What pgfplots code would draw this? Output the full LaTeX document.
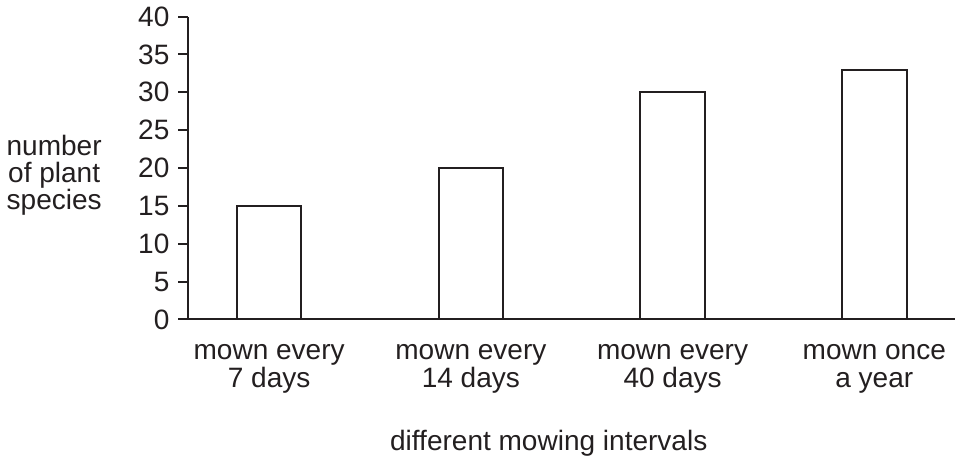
\documentclass[border=0pt]{standalone}
\usepackage{fontspec}
\setmainfont{Liberation Sans}
\usepackage{pgfplots}
\pgfplotsset{compat=1.18}
\definecolor{ink}{HTML}{231F20}
\begin{document}
\begin{tikzpicture}
\begin{axis}[
  scale only axis,
  width=383pt, height=151.3pt,
  xmin=-0.4, xmax=3.4,
  ymin=0, ymax=40,
  axis x line=bottom, axis y line=left,
  axis line style={-, ink, line width=1pt},
  ytick={0,5,...,40},
  xtick={0,1,2,3},
  xticklabels={{mown every\\7 days},{mown every\\14 days},{mown every\\40 days},{mown once\\a year}},
  x tick label style={align=center, font=\fontsize{14}{14}\selectfont, text=ink, yshift=-4pt},
  y tick label style={font=\fontsize{14}{14}\selectfont, text=ink, xshift=-1pt},
  /pgf/number format/assume math mode=true,
  tick align=outside,
  major tick length=5pt,
  ytick style={ink, line width=1pt},
  xtick style={draw=none},
  xlabel={different mowing intervals},
  xlabel style={font=\fontsize{14}{14}\selectfont, text=ink, at={(axis description cs:0.47,0)}, anchor=north, yshift=-52pt},
  ylabel={number\\of plant\\species},
  ylabel style={rotate=-90, align=center, font=\fontsize{14}{13.5}\selectfont, text=ink, at={(axis description cs:-0.104,0.475)}, anchor=east},
  clip=false,
]
\addplot[ybar, bar width=0.32, fill=white, draw=ink, line width=1pt] coordinates {(0,15) (1,20) (2,30) (3,33)};
\end{axis}
\end{tikzpicture}
\end{document}
